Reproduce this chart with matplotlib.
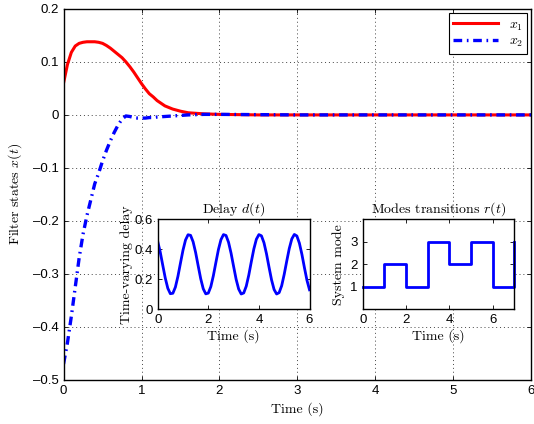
"""
plot.py
-------
Filter states x1, x2 with two insets: time-varying delay d(t) and
Markov mode transitions r(t).
"""

import matplotlib
matplotlib.use("Agg")
import matplotlib.pyplot as plt

plt.rcParams["font.family"] = ["Liberation Sans", "DejaVu Sans"]
plt.rcParams["mathtext.fontset"] = "cm"

# ----------------------------- DATA -----------------------------
t_states = [0.0, 0.05, 0.1, 0.15, 0.2, 0.25, 0.3, 0.35, 0.4, 0.45, 0.5,
            0.55, 0.6, 0.65, 0.7, 0.75, 0.8, 0.85, 0.9, 0.95, 1.0, 1.05,
            1.1, 1.15, 1.2, 1.3, 1.4, 1.5, 1.6, 1.8, 2.0, 2.5, 3.0, 4.0,
            5.0, 6.0]
x1 = [0.060, 0.095, 0.118, 0.130, 0.135, 0.137, 0.138, 0.138, 0.138,
      0.137, 0.135, 0.131, 0.126, 0.120, 0.114, 0.108, 0.100, 0.091,
      0.081, 0.070, 0.059, 0.049, 0.040, 0.034, 0.027, 0.017, 0.011,
      0.007, 0.004, 0.002, 0.001, 0.0, 0.0, 0.0, 0.0, 0.0]
x2 = [-0.470, -0.430, -0.380, -0.325, -0.270, -0.225, -0.190, -0.160,
      -0.130, -0.110, -0.087, -0.067, -0.049, -0.033, -0.019, -0.008,
      -0.002, -0.003, -0.005, -0.006, -0.006, -0.006, -0.005, -0.005,
      -0.004, -0.003, -0.002, -0.001, 0.0, 0.001, 0.001, 0.0005, 0.0,
      0.0, 0.0, 0.0]

# delay d(t), read every 0.1 s
t_delay = [i / 10 for i in range(61)]
delay = [0.453, 0.382, 0.294, 0.208, 0.140, 0.104, 0.107, 0.148, 0.220,
         0.308, 0.394, 0.462, 0.497, 0.493, 0.450, 0.378, 0.290, 0.204,
         0.137, 0.103, 0.108, 0.151, 0.224, 0.312, 0.398, 0.464, 0.498,
         0.492, 0.447, 0.374, 0.286, 0.200, 0.135, 0.102, 0.109, 0.154,
         0.228, 0.317, 0.402, 0.467, 0.498, 0.490, 0.444, 0.370, 0.281,
         0.196, 0.132, 0.102, 0.111, 0.157, 0.233, 0.321, 0.405, 0.469,
         0.499, 0.489, 0.441, 0.366, 0.277, 0.193, 0.130]

# system mode r(t)
t_mode = [0, 1, 2, 3, 4, 5, 6, 7]
mode = [1, 2, 1, 3, 2, 3, 1, 3]

state_yticks = [-0.5, -0.4, -0.3, -0.2, -0.1, 0, 0.1, 0.2]
state_ylabels = ["\u20130.5", "\u20130.4", "\u20130.3", "\u20130.2",
                 "\u20130.1", "0", "0.1", "0.2"]
# ----------------------------------------------------------------

SERIF = "cmr10"


def style_axes(ax, fs=9.5):
    ax.tick_params(direction="in", top=True, right=True, labelsize=fs,
                   length=3, width=0.6)
    for s in ax.spines.values():
        s.set_linewidth(1.0)


fig = plt.figure(figsize=(5.34, 4.24), dpi=100)

# main plot
ax = fig.add_axes([0.119, 0.104, 0.876, 0.875])
ax.plot(t_states, x1, color="red", lw=2.2, label=r"$x_1$")
ax.plot(t_states, x2, color="blue", lw=2.4,
        linestyle=(0, (2.6, 1.4, 0.5, 1.4)), label=r"$x_2$")
ax.set_xlim(0, 6)
ax.set_ylim(-0.5, 0.2)
ax.set_xticks(range(7))
ax.set_yticks(state_yticks)
ax.set_yticklabels(state_ylabels)
ax.grid(True, linestyle=(0, (1, 3)), color="#444444", lw=0.7)
style_axes(ax)
ax.set_xlabel("Time (s)", fontfamily=SERIF, fontsize=10, labelpad=4)
ax.set_ylabel(r"Filter states $x(t)$", fontfamily=SERIF, fontsize=10,
              labelpad=6)
leg = ax.legend(loc="upper right", fontsize=10, fancybox=False,
                edgecolor="black", framealpha=1, handlelength=3.2,
                borderaxespad=0.3, labelspacing=0.1, borderpad=0.3)
leg.get_frame().set_linewidth(0.8)

# inset 1: delay
ax1 = fig.add_axes([0.2953, 0.2705, 0.2843, 0.2123])
ax1.plot(t_delay, delay, color="blue", lw=2.0)
ax1.set_xlim(0, 6)
ax1.set_ylim(0, 0.6)
ax1.set_xticks([0, 2, 4, 6])
ax1.set_yticks([0, 0.2, 0.4, 0.6])
ax1.set_yticklabels(["0", "0.2", "0.4", "0.6"])
style_axes(ax1)
ax1.set_title(r"Delay $d(t)$", fontfamily=SERIF, fontsize=10, pad=5)
ax1.set_xlabel("Time (s)", fontfamily=SERIF, fontsize=10, labelpad=2)
ax1.set_ylabel("Time-varying delay", fontfamily=SERIF, fontsize=10,
               labelpad=1)

# inset 2: mode transitions
ax2 = fig.add_axes([0.6792, 0.2705, 0.2839, 0.2123])
ax2.plot(t_mode, mode, color="blue", lw=2.0, drawstyle="steps-post",
         clip_on=False)
ax2.set_xlim(0, 7)
ax2.set_ylim(0, 4)
ax2.set_xticks([0, 2, 4, 6])
ax2.set_yticks([1, 2, 3])
style_axes(ax2)
ax2.set_title(r"Modes transitions $r(t)$", fontfamily=SERIF, fontsize=10,
              pad=5)
ax2.set_xlabel("Time (s)", fontfamily=SERIF, fontsize=10, labelpad=2)
ax2.set_ylabel("System mode", fontfamily=SERIF, fontsize=10, labelpad=4)

fig.savefig("out.png", dpi=100)
